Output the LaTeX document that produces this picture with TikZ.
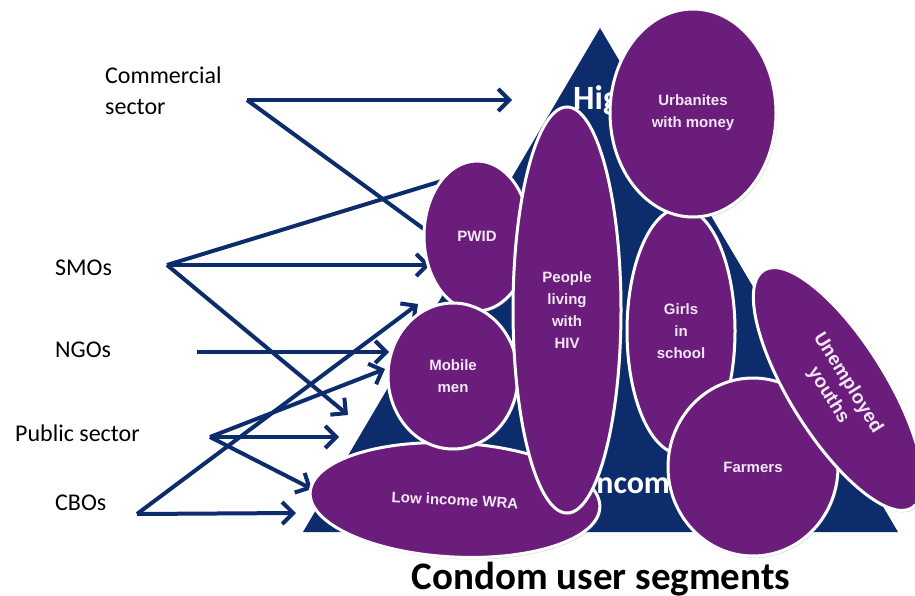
\documentclass[tikz,border=0pt]{standalone}
\usepackage{fontspec}
\setmainfont{Carlito}
\newfontfamily\segfont{Liberation Sans}
\usetikzlibrary{arrows.meta,shapes.geometric,shadows}
\definecolor{pyrnavy}{RGB}{12,44,108}
\definecolor{segpurple}{RGB}{107,29,124}
\definecolor{seglabel}{RGB}{244,230,246}

\begin{document}
\begin{tikzpicture}[
  x=1pt, y=-1pt,
  src/.style={anchor=west, inner sep=0pt, align=left, font=\fontsize{24}{31}\selectfont},
  seg/.style={ellipse, draw=white, line width=3pt, fill=segpurple, inner sep=0pt,
              text=seglabel, align=center, font=\segfont\bfseries\fontsize{15}{22}\selectfont,
              drop shadow={opacity=0.25, shadow xshift=1.5pt, shadow yshift=-2pt}},
  lvl/.style={anchor=base west, inner sep=0pt, text=white, font=\bfseries\fontsize{34}{38}\selectfont},
  arr/.style={-{Straight Barb[length=11pt,width=22pt]}, line width=4pt, draw=pyrnavy},
]
\useasboundingbox[fill=white] (0,0) rectangle (915,596);

% income pyramid
\fill[pyrnavy] (600,28) -- (898,532) -- (303,532) -- cycle;
\node[lvl] (high) at (573,110) {High income};
\node[lvl, font=\bfseries\fontsize{32}{36}\selectfont] (low) at (527,493) {Low income};

% channels
\node[src] (com) at (105,91) {Commercial\\sector};
\node[src] (smo) at (55,268) {SMOs};
\node[src] (ngo) at (55,350) {NGOs};
\node[src] (pub) at (15,433) {Public sector};
\node[src] (cbo) at (55,503) {CBOs};

\coordinate (com-o) at (247,100);
\coordinate (smo-o) at (167,265);
\coordinate (ngo-o) at (197,352);
\coordinate (pub-o) at (210,437);
\coordinate (cbo-o) at (137,514);

\coordinate (com-high) at (512,100);
\coordinate (com-pwid) at (450,248);
\coordinate (smo-pwid) at (445,180);
\coordinate (smo-mid) at (430,265);
\coordinate (smo-low) at (348,415);
\coordinate (ngo-men) at (389,352);
\coordinate (pub-men) at (385,369);
\coordinate (pub-low) at (339,437);
\coordinate (pub-wra) at (312,489);
\coordinate (cbo-men) at (418,304);
\coordinate (cbo-wra) at (296,513);

\draw[arr] (com-o) -- (com-high);
\draw[arr] (com-o) -- (com-pwid);
\draw[arr, -] (smo-o) -- (smo-pwid);
\draw[arr] (smo-o) -- (smo-mid);
\draw[arr] (smo-o) -- (smo-low);
\draw[arr] (ngo-o) -- (ngo-men);
\draw[arr] (pub-o) -- (pub-men);
\draw[arr] (pub-o) -- (pub-low);
\draw[arr] (pub-o) -- (pub-wra);
\draw[arr] (cbo-o) -- (cbo-men);
\draw[arr] (cbo-o) -- (cbo-wra);

% user segments
\node[seg, minimum width=106pt, minimum height=150pt] (pwid) at (477,236) {PWID};
\node[seg, minimum width=290pt, minimum height=114pt, rotate=-3] (wra) at (455,500) {Low income WRA};
\node[seg, minimum width=130pt, minimum height=146pt] (men) at (453,376) {Mobile\\men};
\node[seg, minimum width=108pt, minimum height=406pt] (hiv) at (567,310) {People\\living\\with\\HIV};
\node[seg, minimum width=108pt, minimum height=246pt] (girls) at (681,331) {Girls\\in\\school};
\node[seg, minimum width=166pt, minimum height=208pt] (urban) at (693,113) {Urbanites\\with money};
\node[seg, minimum width=170pt, minimum height=178pt] (farm) at (753,467) {Farmers};
\node[seg, minimum width=280pt, minimum height=96pt, rotate=-58,
      font=\segfont\bfseries\fontsize{19}{23}\selectfont] (youth) at (838,389) {Unemployed\\youths};

\node[anchor=base, inner sep=0pt, font=\bfseries\fontsize{39}{40}\selectfont] (title) at (601,589) {Condom user segments};
\end{tikzpicture}
\end{document}
